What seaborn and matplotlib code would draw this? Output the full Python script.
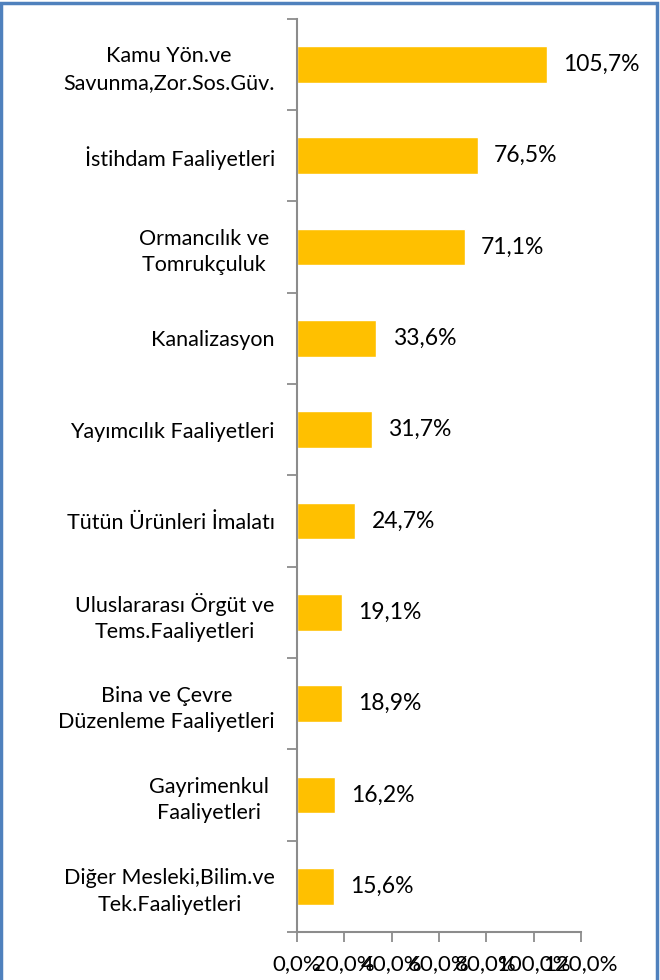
import numpy as np
import pandas as pd
import matplotlib
matplotlib.use('Agg')
import matplotlib.pyplot as plt
import seaborn as sns
from matplotlib.ticker import FuncFormatter, FixedLocator
from matplotlib.patches import Rectangle

categories = ['Kamu Yön.ve\nSavunma,Zor.Sos.Güv.', 'İstihdam Faaliyetleri',
              'Ormancılık ve \nTomrukçuluk ', 'Kanalizasyon', 'Yayımcılık Faaliyetleri',
              'Tütün Ürünleri İmalatı', 'Uluslararası Örgüt ve\nTems.Faaliyetleri',
              'Bina ve Çevre\nDüzenleme Faaliyetleri', 'Gayrimenkul \nFaaliyetleri ',
              'Diğer Mesleki,Bilim.ve\nTek.Faaliyetleri']
values = [105.7, 76.5, 71.1, 33.6, 31.7, 24.7, 19.1, 18.9, 16.2, 15.6]
xticks = [0, 20, 40, 60, 80, 100, 120]

df = pd.DataFrame({'Sektör': categories, 'Değer': values})

sns.set_style('white')
plt.rcParams['font.family'] = ['Lato', 'DejaVu Sans']
plt.rcParams['text.color'] = 'black'
plt.rcParams['xtick.color'] = 'black'
plt.rcParams['ytick.color'] = 'black'

fig, ax = plt.subplots(figsize=(6.6, 9.8), dpi=100)
fig.subplots_adjust(left=0.45, right=0.88, top=0.981, bottom=0.049)

sns.barplot(data=df, x='Değer', y='Sektör', orient='h', color='#FFC000',
            width=0.4, saturation=1, ax=ax)

fmt = lambda v: f'{v:.1f}'.replace('.', ',') + '%'
for i, v in enumerate(values):
    ax.text(v + 6.8, i, fmt(v), va='center', ha='left', fontsize=16.5)

ax.set_xlim(0, 120)
ax.set_ylim(9.5, -0.5)
ax.set_xticks(xticks)
ax.xaxis.set_major_formatter(FuncFormatter(lambda v, p: fmt(v)))
ax.set_xlabel('')
ax.set_ylabel('')

for s in ['top', 'right']:
    ax.spines[s].set_visible(False)
for s in ['left', 'bottom']:
    ax.spines[s].set_color('#8c8c8c')
    ax.spines[s].set_linewidth(1.5)

ax.tick_params(axis='x', which='major', direction='out', length=7, width=1.3,
               color='#8c8c8c', labelsize=16, pad=9, bottom=True)
ax.tick_params(axis='y', which='major', length=0, labelsize=15.5, pad=16)
ax.yaxis.set_minor_locator(FixedLocator(np.arange(-0.5, 10, 1)))
ax.tick_params(axis='y', which='minor', direction='out', length=7, width=1.3,
               color='#8c8c8c', left=True)
for lab in ax.get_yticklabels():
    lab.set_multialignment('center')
    lab.set_linespacing(1.4)

fig.patches.append(Rectangle((0.002, -0.05), 0.994, 1.047, transform=fig.transFigure,
                             fill=False, edgecolor='#4F81BD', linewidth=2.5))

plt.savefig('out.png', dpi=100)
